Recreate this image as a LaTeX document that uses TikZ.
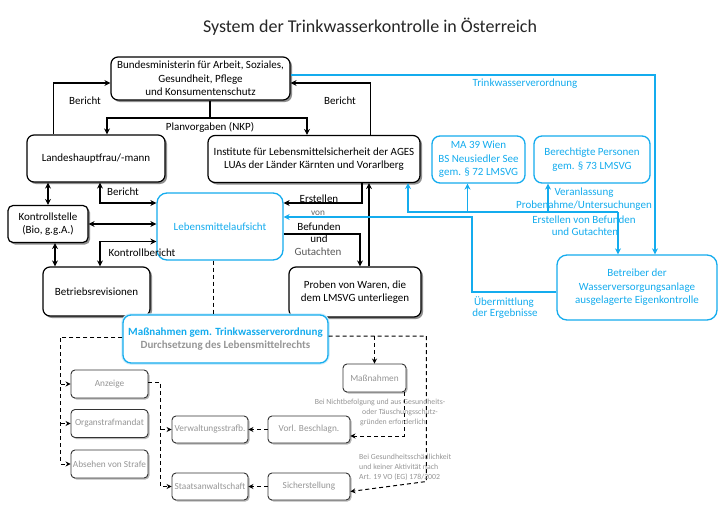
\documentclass[tikz,border=0pt]{standalone}
\usepackage{fontspec}
\setmainfont{Carlito}
\usetikzlibrary{arrows.meta,shadows,calc}
\definecolor{tblue}{RGB}{20,172,238}
\definecolor{tgray}{RGB}{150,150,150}
\newcommand{\fsmain}{\fontsize{11}{13.4}\selectfont}
\newcommand{\fslab}{\fontsize{11}{12.5}\selectfont}
\newcommand{\fssmall}{\fontsize{9.3}{10}\selectfont}
\newcommand{\fstiny}{\fontsize{7.8}{10}\selectfont}
\tikzset{
  bbox/.style={draw=black, line width=1.2pt, rounded corners=7pt, fill=white, align=center, font=\fsmain, inner sep=2pt,
    drop shadow={shadow xshift=2pt, shadow yshift=-2pt, fill=black!55, opacity=0.8}},
  bluebox/.style={draw=tblue, line width=1.3pt, rounded corners=8pt, fill=white, align=center, text=tblue, font=\fsmain, inner sep=2pt},
  sbox/.style={draw=black!80, line width=0.9pt, rounded corners=4pt, fill=white, align=center, text=tgray, font=\fssmall, inner sep=1pt,
    drop shadow={shadow xshift=1.5pt, shadow yshift=-1.5pt, fill=black!40, opacity=0.7}},
  arr/.style={line width=1.2pt, -{Stealth[length=6pt,width=6pt]}},
  darr/.style={line width=1.2pt, {Stealth[length=6pt,width=6pt]}-{Stealth[length=6pt,width=6pt]}},
  barr/.style={draw=tblue, line width=1.2pt, -{Stealth[length=6pt,width=6pt]}},
  dsh/.style={line width=1pt, dash pattern=on 4pt off 3pt},
  dsharr/.style={dsh, -{Stealth[length=5pt,width=5pt]}},
  lab/.style={font=\fslab, inner sep=0pt},
  blab/.style={font=\fslab, text=tblue, inner sep=0pt},
  glab/.style={font=\fstiny, text=tgray, inner sep=0pt},
}
\begin{document}
\begin{tikzpicture}[x=1pt,y=-1pt]
\useasboundingbox (0,0) rectangle (720,527);
\fill[white] (0,0) rectangle (720,527);

\node[text=black!85] (title) at (370,27) {\fontsize{18}{21}\selectfont System der Trinkwasserkontrolle in Österreich};

% main boxes
\node[bbox, minimum width=179, minimum height=43] (bm) at (200.5,78.5) {Bundesministerin für Arbeit, Soziales,\\Gesundheit, Pflege\\und Konsumentenschutz};
\node[bbox, minimum width=138, minimum height=47] (lh) at (96,158.5) {Landeshauptfrau/-mann};
\node[bbox, minimum width=212, minimum height=47] (ages) at (314,159) {Institute für Lebensmittelsicherheit der AGES\\LUAs der Länder Kärnten und Vorarlberg};
\node[bluebox, minimum width=93, minimum height=47] (ma) at (478.5,159.5) {MA 39 Wien\\BS Neusiedler See\\gem. § 72 LMSVG};
\node[bluebox, minimum width=116, minimum height=47] (bp) at (592,159.5) {Berechtigte Personen\\gem. § 73 LMSVG};
\node[bbox, minimum width=80, minimum height=37, rounded corners=5pt] (ks) at (48,224) {Kontrollstelle\\(Bio, g.g.A.)};
\node[bluebox, minimum width=126, minimum height=67, rounded corners=10pt] (lma) at (220,226.5) {Lebensmittelaufsicht};
\node[bbox, minimum width=107, minimum height=49] (br) at (96.5,291.5) {Betriebsrevisionen};
\node[bbox, minimum width=132, minimum height=50] (pr) at (355,292) {Proben von Waren, die\\dem LMSVG unterliegen};
\node[bluebox, minimum width=160, minimum height=65, rounded corners=10pt] (bt) at (637,287.5) {Betreiber der\\Wasserversorgungsanlage\\ausgelagerte Eigenkontrolle};
\node[bluebox, minimum width=205, minimum height=48, font=\bfseries\fsmain,
  preaction={draw=tblue!20, line width=3.5pt}] (mg) at (225.5,339) {Maßnahmen gem. Trinkwasserverordnung\\\textcolor{tgray}{Durchsetzung des Lebensmittelrechts}};

% small boxes
\node[sbox, minimum width=77, minimum height=28] (anz) at (109.5,384) {Anzeige};
\node[sbox, minimum width=77, minimum height=28] (org) at (109.5,423.5) {Organstrafmandat};
\node[sbox, minimum width=77, minimum height=28] (abs) at (109.5,464) {Absehen von Strafe};
\node[sbox, minimum width=76, minimum height=27] (vs) at (210,429.5) {Verwaltungsstrafb.};
\node[sbox, minimum width=82, minimum height=27] (vb) at (309,429.5) {Vorl. Beschlagn.};
\node[sbox, minimum width=76, minimum height=27] (sa) at (210,486.5) {Staatsanwaltschaft};
\node[sbox, minimum width=82, minimum height=27] (si) at (309,486.5) {Sicherstellung};
\node[sbox, minimum width=63, minimum height=28] (mn) at (374.5,378) {Maßnahmen};

% black connectors
\draw[arr] ([xshift=27pt]lh.north west) |- ([yshift=-4.5pt]bm.west);
\node[lab] (l1) at (85,101) {Bericht};
\draw[arr] ([xshift=-50pt]ages.north east) |- ([yshift=-4.5pt]bm.east);
\node[lab] (l2) at (340,101) {Bericht};
\coordinate (pv) at (210,118);
\draw[line width=1.5pt] ([xshift=9.5pt]bm.south) -- (pv);
\draw[arr] (pv) -| ([xshift=11pt]lh.north);
\draw[arr] (pv) -| ([xshift=-7pt]ages.north);
\node[lab] (l3) at (210,127) {Planvorgaben (NKP)};

\draw[darr] (lh.south -| ks.north) -- (ks.north);
\draw[darr] ([xshift=4pt]lh.south) |- ([yshift=23.5pt]lma.west);
\node[lab] (l4) at (123,192) {Bericht};
\draw[darr] (ks.east) -- (ks.east -| lma.west);
\draw[darr] ([xshift=7pt]ks.south) -- ([xshift=7pt]ks.south |- br.north);
\draw[darr] ([yshift=-15pt]lma.west) -| ([xshift=3.5pt]br.north);
\node[lab] (l5) at (142,253) {Kontrollbericht};

\draw[arr] ([xshift=48pt]ages.south) |- ([yshift=23.5pt]lma.east);
\draw[arr] ([yshift=-7.5pt]lma.east) -| ([xshift=5pt]pr.north);
\draw[arr] ([xshift=14pt]pr.north) -- ([xshift=14pt]pr.north |- ages.south);
\node[lab] (e1) at (319,199) {Erstellen};
\node[lab, text=black!60, font=\fssmall] (e2) at (318,213) {von};
\node[lab] (e3) at (319,227) {Befunden};
\node[lab] (e4) at (319,239) {und};
\node[lab, text=black!65] (e5) at (318,252) {Gutachten};

% blue connectors
\draw[barr] ([yshift=3.5pt]bm.east) -| ([xshift=18pt]bt.north);
\node[blab] (t1) at (525,84) {Trinkwasserverordnung};
\coordinate (lj) at (618,212);
\draw[barr] (lj) -- (lj |- bt.north);
\draw[barr] (lj) -| ([xshift=94pt]ages.south);
\draw[barr] ([xshift=-11pt]ma.south |- lj) -- ([xshift=-11pt]ma.south);
\draw[barr] ([xshift=-44pt]bp.south |- lj) -- ([xshift=-44pt]bp.south);
\node[blab] (v1) at (584,193) {Veranlassung};
\node[blab] (v2) at (584,206) {Probenahme/Untersuchungen};
\node[blab] (v3) at (584,220) {Erstellen von Befunden};
\node[blab] (v4) at (585,232) {und Gutachten};
\coordinate (uk) at (472,217);
\draw[barr] ([yshift=-4.5pt]bt.west) -| (uk) -- (uk -| lma.east);
\node[blab] (u1) at (504,302) {Übermittlung};
\node[blab] (u2) at (505,314) {der Ergebnisse};

% dashed connectors
\draw[dsh] ([xshift=-7pt]lma.south) -- ([xshift=-7pt]lma.south |- mg.north);
\draw[dsharr] ([yshift=2pt]mg.west) -| ([xshift=-10pt]abs.west) -- (abs.west);
\draw[dsharr] ([xshift=-10pt]anz.west) -- (anz.west);
\draw[dsharr] ([xshift=-10pt]org.west) -- (org.west);
\draw[dsharr] ([yshift=2pt]anz.east) -| ([xshift=-11pt]sa.west) -- (sa.west);
\draw[dsharr] ([xshift=-11pt]vs.west) -- (vs.west);
\draw[dsharr] (vb.west) -- (vs.east);
\draw[dsharr] (si.west) -- (sa.east);
\draw[dsharr] ([yshift=3pt]mg.east) -| ($(mn.east |- si.east)+(20,-5)$) -- ([yshift=-5pt]si.east);
\draw[dsharr] (mn.north |- mg.east) ++(0,-3) -- (mn.north);
\draw[dsharr] ([xshift=-2pt]mn.south east) |- ([yshift=-6.5pt]vb.east);

\node[glab] (g1) at (380,402) {Bei Nichtbefolgung und aus Gesundheits-};
\node[glab] (g2) at (400,412) {oder Täuschungsschutz-};
\node[glab] (g3) at (393,422) {gründen erforderlich};
\node[glab, anchor=west, align=left] (g4) at (359,467) {Bei Gesundheitsschädlichkeit\\und keiner Aktivität nach\\Art. 19 VO (EG) 178/2002};
\end{tikzpicture}
\end{document}
